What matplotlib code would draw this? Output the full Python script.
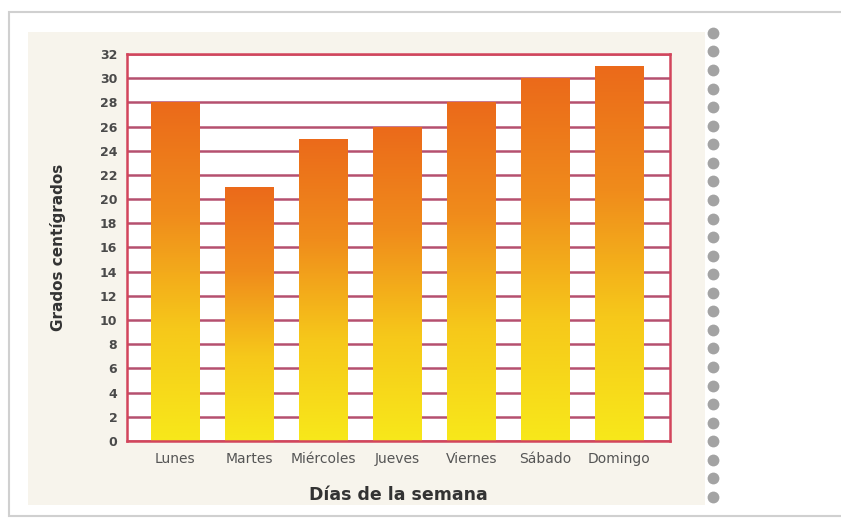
import numpy as np
import matplotlib.pyplot as plt
from matplotlib.patches import Rectangle
from matplotlib.colors import LinearSegmentedColormap

dias = ['Lunes', 'Martes', 'Miércoles', 'Jueves', 'Viernes', 'Sábado', 'Domingo']
grados = [28, 21, 25, 26, 28, 30, 31]
yticks = list(range(0, 33, 2))

fig = plt.figure(figsize=(8.41, 5.21), dpi=100)
fig.patch.set_facecolor('white')

# outer frame + beige panel (behind the axes)
fig.add_artist(Rectangle((0.011, 0.0096), 1.0, 0.967, transform=fig.transFigure,
                         facecolor='white', edgecolor='#d0d0d0', lw=1.5, zorder=-10))
fig.add_artist(Rectangle((0.033, 0.031), 0.805, 0.908, transform=fig.transFigure,
                         facecolor='#f7f4ec', edgecolor='none', zorder=-9))

ax = fig.add_axes([0.151, 0.1536, 0.646, 0.7428])
ax.set_facecolor('white')

x = np.arange(len(dias))
bars = ax.bar(x, grados, width=0.65, color='none', zorder=3)

# orange-to-yellow gradient inside each bar
cmap = LinearSegmentedColormap.from_list('sol', ['#f8e81a', '#f6c81a', '#f08c1c', '#eb6a1a'])
grad = np.linspace(0, 1, 256).reshape(-1, 1)
for b in bars:
    x0 = b.get_x()
    im = ax.imshow(grad, cmap=cmap, origin='lower', aspect='auto',
                   extent=[x0, x0 + b.get_width(), 0, b.get_height()], zorder=3)
    im.set_clip_path(b)

for yv in yticks:
    ax.axhline(yv, color='#b5506f', lw=1.8, zorder=1)

ax.set_xlim(-0.65, 6.69)
ax.set_ylim(0, 32)
ax.set_yticks(yticks)
ax.set_yticklabels([str(v) for v in yticks], fontsize=9, fontweight='bold', color='#4a4a4a')
ax.set_xticks(x)
ax.set_xticklabels(dias, fontsize=10, color='#555555')
ax.tick_params(axis='y', length=0, pad=7)
ax.tick_params(axis='x', length=0, pad=8)
for s in ax.spines.values():
    s.set_color('#d2455c')
    s.set_linewidth(1.8)
    s.set_zorder(4)

ax.set_ylabel('Grados centígrados', fontsize=11, fontweight='bold', color='#333333', labelpad=24)
ax.set_xlabel('Días de la semana', fontsize=12.5, fontweight='bold', color='#333333', labelpad=14)

# spiral binding
sp = fig.add_axes([0.836, 0.0, 0.024, 1.0], facecolor='none')
sp.axis('off')
sp.set_xlim(0, 1)
sp.set_ylim(0, 1)
yy = np.linspace(0.046, 0.937, 26)
sp.plot(np.full_like(yy, 0.5), yy, ls='none', marker='o', ms=8.5, mew=0, color='#999999', alpha=0.9)

fig.savefig('out.png', dpi=100)
